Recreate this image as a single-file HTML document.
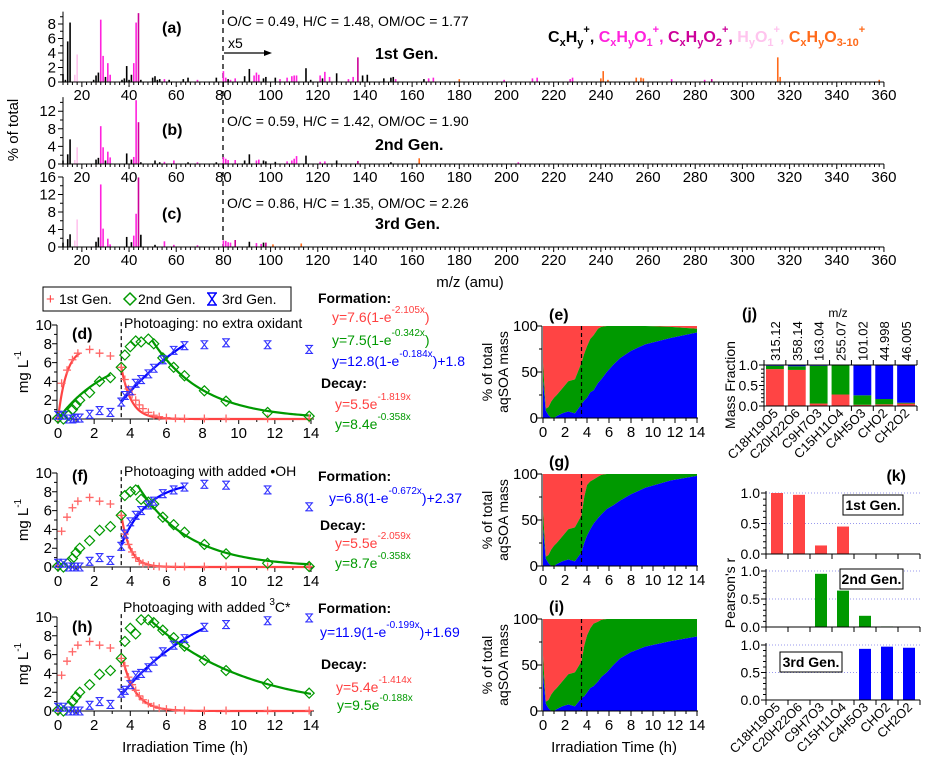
<!DOCTYPE html>
<html><head><meta charset="utf-8"><style>
body{margin:0;background:#fff}
svg{display:block;font-family:"Liberation Sans",Arial,sans-serif}
</style></head><body>
<svg id="fig" width="933" height="768" viewBox="0 0 933 768">
<rect x="0" y="0" width="933" height="768" fill="#fff"/>
<text x="18" y="130" font-size="15" transform="rotate(-90 18 130)" text-anchor="middle">% of total</text>
<text x="470" y="287" font-size="15" text-anchor="middle">m/z (amu)</text>
<line x1="223" y1="10" x2="223" y2="247" stroke="#000" stroke-width="1.3" stroke-dasharray="5,4"/>
<text x="162" y="33" font-size="16" font-weight="bold">(a)</text>
<text x="227" y="26" font-size="14">O/C = 0.49, H/C = 1.48, OM/OC = 1.77</text>
<text x="228" y="48" font-size="14">x5</text>
<line x1="224" y1="53" x2="266" y2="53" stroke="#000" stroke-width="1.2"/>
<polygon points="272,53 264,50 264,56" fill="#000"/>
<text x="375" y="59" font-size="16" font-weight="bold">1st Gen.</text>
<text x="162" y="135" font-size="16" font-weight="bold">(b)</text>
<text x="227" y="126" font-size="14">O/C = 0.59, H/C = 1.42, OM/OC = 1.90</text>
<text x="375" y="150" font-size="16" font-weight="bold">2nd Gen.</text>
<text x="162" y="219" font-size="16" font-weight="bold">(c)</text>
<text x="227" y="208" font-size="14">O/C = 0.86, H/C = 1.35, OM/OC = 2.26</text>
<text x="375" y="229" font-size="16" font-weight="bold">3rd Gen.</text>
<text x="548" y="42" font-size="16" font-weight="bold"><tspan fill="#000">C<tspan font-size="11" dy="4">x</tspan><tspan dy="-4">H</tspan><tspan font-size="11" dy="4">y</tspan><tspan font-size="11" dy="-13">+</tspan><tspan dy="9">, </tspan></tspan><tspan fill="#ff22dd">C<tspan font-size="11" dy="4">x</tspan><tspan dy="-4">H</tspan><tspan font-size="11" dy="4">y</tspan><tspan dy="-4">O</tspan><tspan font-size="11" dy="4">1</tspan><tspan font-size="11" dy="-13">+</tspan><tspan dy="9">, </tspan></tspan><tspan fill="#cc0099">C<tspan font-size="11" dy="4">x</tspan><tspan dy="-4">H</tspan><tspan font-size="11" dy="4">y</tspan><tspan dy="-4">O</tspan><tspan font-size="11" dy="4">2</tspan><tspan font-size="11" dy="-13">+</tspan><tspan dy="9">, </tspan></tspan><tspan fill="#ffc4ee">H<tspan font-size="11" dy="4">y</tspan><tspan dy="-4">O</tspan><tspan font-size="11" dy="4">1</tspan><tspan font-size="11" dy="-13">+</tspan><tspan dy="9">, </tspan></tspan><tspan fill="#ff6a1a">C<tspan font-size="11" dy="4">x</tspan><tspan dy="-4">H</tspan><tspan font-size="11" dy="4">y</tspan><tspan dy="-4">O</tspan><tspan font-size="11" dy="4">3-10</tspan><tspan font-size="11" dy="-13">+</tspan></tspan></text>

<rect x="43" y="287" width="248" height="24" fill="#fff" stroke="#000" stroke-width="1"/>
<text x="46" y="304" font-size="15" fill="#ff4040">+</text>
<text x="59" y="304" font-size="14">1st Gen.</text>
<polygon points="130,293 136,299 130,305 124,299" fill="none" stroke="#009900" stroke-width="1.5"/>
<text x="138" y="304" font-size="14">2nd Gen.</text>
<path d="M207,293 h10 M207,305 h10 M208,293 L216,305 M216,293 L208,305" stroke="#0000ff" stroke-width="1.5" fill="none"/>
<text x="222" y="304" font-size="14">3rd Gen.</text>

<text x="28" y="372" font-size="15" text-anchor="middle" transform="rotate(-90 28 372)">mg L<tspan font-size="10" dy="-7">-1</tspan></text>
<text x="72" y="339" font-size="16" font-weight="bold">(d)</text>
<text x="124" y="328" font-size="14">Photoaging: no extra oxidant</text>
<text x="318" y="303" font-size="14" font-weight="bold">Formation:</text>
<text x="332" y="322" font-size="14" fill="#ff4040">y=7.6(1-e<tspan font-size="10" dy="-9">-2.105x</tspan><tspan dy="9">)</tspan></text>
<text x="332" y="345" font-size="14" fill="#009900">y=7.5(1-e<tspan font-size="10" dy="-9">-0.342x</tspan><tspan dy="9">)</tspan></text>
<text x="332" y="366" font-size="14" fill="#0000ff">y=12.8(1-e<tspan font-size="10" dy="-9">-0.184x</tspan><tspan dy="9">)+1.8</tspan></text>
<text x="321" y="388" font-size="14" font-weight="bold">Decay:</text>
<text x="335" y="409" font-size="14" fill="#ff4040">y=5.5e<tspan font-size="10" dy="-9">-1.819x</tspan></text>
<text x="335" y="429" font-size="14" fill="#009900">y=8.4e<tspan font-size="10" dy="-9">-0.358x</tspan></text>

<text x="28" y="520" font-size="15" text-anchor="middle" transform="rotate(-90 28 520)">mg L<tspan font-size="10" dy="-7">-1</tspan></text>
<text x="72" y="481" font-size="16" font-weight="bold">(f)</text>
<text x="124" y="476" font-size="14">Photoaging with added •OH</text>
<text x="318" y="481" font-size="14" font-weight="bold">Formation:</text>
<text x="329" y="503" font-size="14" fill="#0000ff">y=6.8(1-e<tspan font-size="10" dy="-9">-0.672x</tspan><tspan dy="9">)+2.37</tspan></text>
<text x="320" y="530" font-size="14" font-weight="bold">Decay:</text>
<text x="335" y="548" font-size="14" fill="#ff4040">y=5.5e<tspan font-size="10" dy="-9">-2.059x</tspan></text>
<text x="335" y="568" font-size="14" fill="#009900">y=8.7e<tspan font-size="10" dy="-9">-0.358x</tspan></text>

<text x="28" y="664" font-size="15" text-anchor="middle" transform="rotate(-90 28 664)">mg L<tspan font-size="10" dy="-7">-1</tspan></text>
<text x="72" y="632" font-size="16" font-weight="bold">(h)</text>
<text x="123" y="612" font-size="14">Photoaging with added <tspan font-size="10" dy="-7">3</tspan><tspan dy="7">C*</tspan></text>
<text x="318" y="613" font-size="14" font-weight="bold">Formation:</text>
<text x="320" y="637" font-size="14" fill="#0000ff">y=11.9(1-e<tspan font-size="10" dy="-9">-0.199x</tspan><tspan dy="9">)+1.69</tspan></text>
<text x="321" y="669" font-size="14" font-weight="bold">Decay:</text>
<text x="336" y="692" font-size="14" fill="#ff4040">y=5.4e<tspan font-size="10" dy="-9">-1.414x</tspan></text>
<text x="337" y="710" font-size="14" fill="#009900">y=9.5e<tspan font-size="10" dy="-9">-0.188x</tspan></text>
<text x="185" y="752" font-size="15" text-anchor="middle">Irradiation Time (h)</text>

<text x="549" y="320" font-size="16" font-weight="bold">(e)</text>
<text x="549" y="467" font-size="16" font-weight="bold">(g)</text>
<text x="549" y="612" font-size="16" font-weight="bold">(i)</text>
<text x="614" y="752" font-size="15" text-anchor="middle">Irradiation Time (h)</text>

<text x="742" y="319" font-size="16" font-weight="bold">(j)</text>
<text x="838" y="317" font-size="12" text-anchor="middle">m/z</text>
<text x="735" y="385" font-size="14" text-anchor="middle" transform="rotate(-90 735 385)">Mass Fraction</text>
<text x="906" y="481" font-size="16" font-weight="bold" text-anchor="end">(k)</text>
<text x="735" y="593" font-size="14" text-anchor="middle" transform="rotate(-90 735 593)">Pearson's r</text>
</svg>
<script>
const specMzA=[12,13,14,15,17,18,25,26,27,28,29,30,31,32,37,38,39,40,41,42,43,44,45,50,51,52,53,55,57,63,65,69,77,80,81,82,83,85,89,91,93,94,95,97,98,102,104,107,109,110,111,115,117,121,122,123,125,128,133,135,137,139,141,148,151,152,153,165,167,169,180,199,211,213,227,228,240,241,243,255,257,258,270,284,287,315,316,358];
const specValA=[1.1,0.3,5.6,8.2,1.0,3.8,0.3,0.9,1.3,8.6,3.6,0.7,2.6,1.0,0.3,0.5,2.2,0.3,1.0,2.6,8.2,9.5,0.3,0.6,0.8,0.3,0.4,0.4,0.3,0.4,0.6,0.3,0.6,1.5,0.6,0.4,0.3,0.5,0.8,1.8,0.9,1.3,1.0,0.5,0.7,0.6,0.4,0.6,0.8,0.9,0.9,1.9,0.3,0.9,0.5,1.4,0.7,1.2,0.4,0.7,3.4,0.9,1.0,0.5,0.6,0.7,0.4,0.4,0.5,0.6,0.4,0.3,0.5,0.6,0.4,0.6,0.5,1.5,0.3,0.6,0.6,0.5,0.4,0.3,0.4,3.4,0.7,0.3];
const specClsA=['k','k','k','k','l','l','k','k','k','p','p','k','p','p','k','k','k','k','k','p','p','m','k','k','k','k','k','p','k','k','k','p','k','p','p','k','p','p','k','k','p','p','p','k','k','k','p','p','p','p','p','k','k','p','k','p','p','k','p','p','m','k','k','k','k','k','p','k','p','p','o','p','p','p','p','p','o','o','o','o','o','o','p','p','m','o','o','o'];
const specMzB=[12,14,15,17,18,26,27,28,29,30,31,32,39,41,42,43,44,45,51,53,55,59,65,69,77,80,81,82,85,89,91,94,95,97,98,102,107,109,110,111,115,121,123,128,137,151,163,205];
const specValB=[0.8,2.2,5.6,0.9,3.8,1.0,1.4,8.6,3.8,0.8,2.8,1.5,2.4,1.0,1.6,14.5,9.5,0.4,0.8,0.4,0.5,0.8,0.4,0.4,0.4,1.6,1.2,0.9,0.9,0.8,2.2,0.8,1.0,0.8,0.6,0.5,0.6,0.8,1.2,1.8,1.9,0.5,0.6,0.8,0.7,0.4,1.3,0.4];
const specClsB=['k','k','k','l','l','k','k','p','p','k','p','p','k','k','p','p','m','k','k','k','p','p','k','p','k','p','p','p','p','k','k','p','p','k','k','k','p','p','p','p','k','p','p','k','m','k','o','p'];
const specMzC=[12,14,15,17,18,26,27,28,29,31,32,39,41,42,43,44,45,51,55,59,69,80,81,82,83,85,91,94,96,97,98,101,113];
const specValC=[1.0,1.8,2.9,1.5,6.3,1.2,2.2,14.3,4.2,1.9,0.6,2.3,1.1,2.6,7.6,15.9,2.8,0.5,1.3,0.5,0.4,1.5,1.4,1.1,1.0,1.6,1.2,0.9,0.7,1.0,1.0,0.6,0.8];
const specClsC=['k','k','k','l','l','k','k','p','p','p','p','k','k','p','p','m','k','k','p','p','p','p','p','p','p','m','k','p','p','k','m','o','o'];

const tShared=[0,0.3,0.6,0.8,1.0,1.2,1.75,2.3,2.9,3.5,3.7,4.0,4.3,4.6,5.0,5.3,5.8,6.4,7.0,8.1,9.3,11.6,13.9];
const tRed=[0,0.2,0.5,0.8,1.1,1.75,2.3,2.9,3.5,3.7,3.9,4.1,4.3,4.5,4.7,5.0,5.3,5.6,6.0,6.5,7.0,8.1,9.3,11.6,13.9];
const redD=[0.2,3.8,5.2,6.3,7.0,7.4,7.0,6.7,5.5,4.2,3.2,2.6,2.0,1.5,1.1,0.7,0.4,0.25,0.15,0.08,0.05,0.05,0.05,0.05,0.05];
const greenD=[0.1,0,0.4,1.0,1.5,2.0,2.8,4.0,4.4,5.5,6.8,7.7,8.3,8.2,8.5,8.0,6.5,5.5,4.6,3.0,1.9,0.7,0.3];
const blueD=[0.4,0.4,0,0,0.1,0.1,0.5,0.9,0.7,1.8,2.5,3.0,3.8,4.2,4.8,5.4,6.3,7.3,7.8,7.9,8.1,7.9,7.4];
const redF=[0.2,3.8,5.3,6.3,7.0,7.4,7.0,6.7,5.5,3.5,2.4,1.6,1.0,0.6,0.4,0.2,0.1,0.05,0.05,0.05,0.05,0.05,0.05,0.05,0.05];
const greenF=[0.1,0,0.5,0.9,1.5,2.0,2.8,3.9,4.3,5.5,7.6,8.0,8.2,7.2,6.9,6.7,5.3,4.5,3.7,2.4,1.4,0.4,0.05];
const blueF=[0.4,0.4,0,0,0,0,0.6,1.0,0.7,2.2,3.5,4.8,5.5,6.0,6.6,7.0,7.8,8.2,8.5,8.8,8.7,8.2,6.4];
const redH=[0.2,3.8,5.3,6.3,7.0,7.4,7.0,6.7,5.6,4.8,3.6,2.8,2.2,1.6,1.2,0.8,0.5,0.3,0.2,0.1,0.05,0.05,0.05,0.05,0.05];
const greenH=[0.1,0,0.5,1.0,1.5,2.0,2.8,3.9,4.3,5.6,7.4,8.8,8.2,9.7,9.7,9.4,8.6,7.8,6.9,5.4,4.3,2.9,1.9];
const blueH=[0.4,0.4,0,0,0,0,0.6,1.0,0.7,1.9,2.2,2.8,3.8,4.0,4.6,5.3,6.3,7.0,7.7,8.9,9.2,9.6,9.9];
const fitRedFormD=[7.6,2.105,0,1.2];
const fitGreenFormD=[7.5,0.342,0,2.9];
const fitBlueFormD=[12.8,0.184,1.8,3.5,7.0];
const fitRedDecayD=[5.5,1.819,3.5,14];
const fitGreenDecayD=[8.4,0.358,5.2,14];
const fitBlueFormF=[6.8,0.672,2.37,3.5,7.0];
const fitRedDecayF=[5.5,2.059,3.5,14];
const fitGreenDecayF=[8.7,0.358,4.4,14];
const fitBlueFormH=[11.9,0.199,1.69,3.5,8.1];
const fitRedDecayH=[5.4,1.414,3.6,14];
const fitGreenDecayH=[9.5,0.188,5.2,14];

const tFrac=[0,0.25,0.5,0.75,1,1.25,1.75,2.3,2.9,3.5,3.75,4,4.3,4.6,5,5.3,5.8,6.4,7,8,9.3,11.6,14];
const blueE=[40,8,3,0,0,2,5,7,5,15,19,22,28,30,38,42,50,58,65,73,80,87,93];
const greenE=[20,2,9,18,22,23,27,33,37,45,51,56,58,60,59,57,50,42,35,27,20,12,4];
const blueG=[40,8,3,0,0,2,5,7,5,15,25,33,40,46,52,56,62,66,71,78,85,93,98];
const greenG=[20,2,9,18,22,23,27,33,37,40,50,55,52,48,45,43,38,34,29,22,15,7,2];
const blueI=[40,8,3,0,0,2,5,7,5,14,16,20,25,27,32,37,42,50,57,64,70,76,81];
const greenI=[20,2,9,18,22,23,27,33,37,40,55,62,65,68,65,62,58,50,43,36,30,24,19];

const species=['C18H19O5','C20H22O6','C9H7O3','C15H11O4','C4H5O3','CHO2','CH2O2'];
const speciesMz=['315.12','358.14','163.04','255.07','101.02','44.998','46.005'];
const fracRed=[0.90,0.88,0.06,0.28,0.03,0.04,0.06];
const fracGreen=[0.08,0.09,0.92,0.72,0.23,0.13,0.02];
const fracBlue=[0.02,0.03,0.02,0.00,0.74,0.83,0.92];
const pearson1=[1.0,0.97,0.14,0.45,0,0,0];
const pearson2=[0,0,0.95,0.65,0.2,0.01,0];
const pearson3=[0,0,0,0,0.93,0.97,0.95];

const NS='http://www.w3.org/2000/svg';
const svg=document.getElementById('fig');
function mk(tag,attrs,parent){const e=document.createElementNS(NS,tag);for(const k in attrs)e.setAttribute(k,attrs[k]);(parent||svg).appendChild(e);return e;}
function txt(x,y,s,size,anchor,parent){const t=mk('text',{x:x,y:y,'font-size':size,'text-anchor':anchor||'middle'},parent);t.textContent=s;return t;}
const COL={k:'#000',p:'#ff22dd',m:'#cc0099',l:'#ffc4ee',o:'#ff6a1a'};
const RED='#ff4444',GREEN='#009900',BLUE='#0000ff';

function specPanel(name,y0,scale,ymax,ystep,ysub,mzs,vals,cls){
  const g=mk('g',{});
  
  
  const sx=m=>63+(m-12)*2.359;
  for(let i=0;i<mzs.length;i++){
    const b=mk('line',{x1:sx(mzs[i]),x2:sx(mzs[i]),y1:y0,y2:y0-vals[i]*scale,stroke:COL[cls[i]],'stroke-width':1.6},g);
    
    
  }
  mk('line',{x1:63,x2:884,y1:y0,y2:y0,stroke:'#000','stroke-width':1},g);
  let d='';
  for(let m=12;m<=360;m+=2){d+=`M${sx(m)},${y0}v${m%20===0?5:3}`;}
  mk('path',{d:d,stroke:'#000','stroke-width':1,fill:'none'},g);
  for(let m=20;m<=360;m+=20){const t=txt(sx(m),y0+18,String(m),15,'middle',g);}
  mk('line',{x1:63,x2:63,y1:y0,y2:y0-ymax*scale,stroke:'#000','stroke-width':1},g);
  let dy='';
  for(let v=0;v<=ymax+0.01;v+=ysub){dy+=`M63,${y0-v*scale}h${(Math.abs(v/ystep-Math.round(v/ystep))<1e-6)?-5:-3}`;}
  mk('path',{d:dy,stroke:'#000','stroke-width':1,fill:'none'},g);
  for(let v=0;v<=ymax;v+=ystep){const t=txt(56,y0-v*scale+5,String(v),15,'end',g);}
}
specPanel('spectrum-panel-a',82,7.25,9.7,2,1,specMzA,specValA,specClsA);
specPanel('spectrum-panel-b',164,4.4,15.2,4,2,specMzB,specValB,specClsB);
specPanel('spectrum-panel-c',247,4.375,16,4,2,specMzC,specValC,specClsC);

function tsPanel(name,y0,red,green,blue,fits){
  const g=mk('g',{});
  
  
  const X=t=>58+t*18.07, Y=v=>y0-v*9.4;
  mk('line',{x1:57,x2:314,y1:y0,y2:y0,stroke:'#000'},g);
  mk('line',{x1:57,x2:57,y1:y0,y2:Y(10),stroke:'#000'},g);
  let d='';
  for(let t=0;t<=14;t++)d+=`M${X(t)},${y0}v${t%2===0?5:3}`;
  for(let v=0;v<=10;v++)d+=`M57,${Y(v)}h${v%2===0?-5:-3}`;
  mk('path',{d:d,stroke:'#000',fill:'none'},g);
  for(let t=0;t<=14;t+=2){const l=txt(X(t),y0+19,String(t),15,'middle',g);}
  for(let v=0;v<=10;v+=2){const l=txt(52,Y(v)+5,String(v),15,'end',g);}
  const dl=mk('line',{x1:X(3.5),x2:X(3.5),y1:Y(10.3),y2:y0,stroke:'#000','stroke-dasharray':'4,3','stroke-width':1.2},g);
  
  
  function curve(f,col,nm){let p='';const n=80;for(let i=0;i<=n;i++){const t=f.t0+(f.t1-f.t0)*i/n;p+=(i?'L':'M')+X(t)+','+Y(f.fn(t));}
    const c=mk('path',{d:p,stroke:col,'stroke-width':2.2,fill:'none'},g);
    
    }
  fits.forEach(f=>curve(f,f.col,f.nm));
  for(let i=0;i<tRed.length;i++){const x=X(tRed[i]),y=Y(red[i]);
    const m=mk('path',{d:`M${x-4},${y}h8M${x},${y-4}v8`,stroke:'#ff6666','stroke-width':1.3,fill:'none'},g);
    
    }
  for(let i=0;i<tShared.length;i++){const x=X(tShared[i]),y=Y(green[i]);
    const m=mk('polygon',{points:`${x},${y-5} ${x+5},${y} ${x},${y+5} ${x-5},${y}`,stroke:GREEN,'stroke-width':1.2,fill:'none'},g);
    
    }
  for(let i=0;i<tShared.length;i++){const x=X(tShared[i]),y=Y(blue[i]);
    const m=mk('path',{d:`M${x-4},${y-4}h8M${x-4},${y+4}h8M${x-3},${y-4}L${x+3},${y+4}M${x+3},${y-4}L${x-3},${y+4}`,stroke:'#3333ff','stroke-width':1.1,fill:'none'},g);
    
    }
}
const formA=p=>({t0:p[2],t1:p[3],fn:t=>p[0]*(1-Math.exp(-p[1]*t))});
const formB=p=>({t0:p[3],t1:p[4],fn:t=>p[0]*(1-Math.exp(-p[1]*(t-p[3])))+p[2]});
const decay=p=>({t0:p[2],t1:p[3],fn:t=>p[0]*Math.exp(-p[1]*(t-p[2]))});
function F(o,col,nm){o.col=col;o.nm=nm;return o;}
tsPanel('panel-d',419,redD,greenD,blueD,[F(formA(fitRedFormD),RED,'fit-1st-formation'),F(formA(fitGreenFormD),GREEN,'fit-2nd-formation'),F(formB(fitBlueFormD),BLUE,'fit-3rd-formation'),F(decay(fitRedDecayD),RED,'fit-1st-decay'),F(decay(fitGreenDecayD),GREEN,'fit-2nd-decay')]);
tsPanel('panel-f',567,redF,greenF,blueF,[F(formB(fitBlueFormF),BLUE,'fit-3rd-formation'),F(decay(fitRedDecayF),RED,'fit-1st-decay'),F(decay(fitGreenDecayF),GREEN,'fit-2nd-decay')]);
tsPanel('panel-h',711,redH,greenH,blueH,[F(formB(fitBlueFormH),BLUE,'fit-3rd-formation'),F(decay(fitRedDecayH),RED,'fit-1st-decay'),F(decay(fitGreenDecayH),GREEN,'fit-2nd-decay')]);

function fracPanel(name,y0,y100,blue,green){
  const g=mk('g',{});
  
  
  const X=t=>543+t*11.0, Y=v=>y0-(y0-y100)*v/100;
  const n=tFrac.length;
  let redPts=[],greenPts=[],bluePts=[];
  for(let i=0;i<n;i++){redPts.push(X(tFrac[i])+','+Y(100));}
  for(let i=n-1;i>=0;i--){redPts.push(X(tFrac[i])+','+Y(blue[i]+green[i]));}
  for(let i=0;i<n;i++){greenPts.push(X(tFrac[i])+','+Y(blue[i]+green[i]));}
  for(let i=n-1;i>=0;i--){greenPts.push(X(tFrac[i])+','+Y(blue[i]));}
  for(let i=0;i<n;i++){bluePts.push(X(tFrac[i])+','+Y(blue[i]));}
  bluePts.push(X(14)+','+y0,X(0)+','+y0);
  const r=mk('polygon',{points:redPts.join(' '),fill:RED},g);
  
  
  const gg=mk('polygon',{points:greenPts.join(' '),fill:GREEN},g);
  
  
  const b=mk('polygon',{points:bluePts.join(' '),fill:BLUE},g);
  
  
  mk('line',{x1:X(3.5),x2:X(3.5),y1:y100,y2:y0,stroke:'#000','stroke-dasharray':'4,3','stroke-width':1.2},g);
  mk('line',{x1:542,x2:698,y1:y0,y2:y0,stroke:'#000'},g);
  mk('line',{x1:542,x2:542,y1:y0,y2:y100,stroke:'#000'},g);
  let d='';
  for(let t=0;t<=14;t++)d+=`M${X(t)},${y0}v${t%2===0?5:3}`;
  for(let v=0;v<=100;v+=25)d+=`M542,${Y(v)}h${v%50===0?-5:-3}`;
  mk('path',{d:d,stroke:'#000',fill:'none'},g);
  for(let t=0;t<=14;t+=2){const l=txt(X(t),y0+19,String(t),15,'middle',g);}
  for(let v=0;v<=100;v+=50){const l=txt(538,Y(v)+5,String(v),15,'end',g);}
  const c=(y0+y100)/2;
  const a=mk('text',{x:492,y:c,'font-size':14,'text-anchor':'middle',transform:`rotate(-90 492 ${c})`},g);a.textContent='% of total';
  const a2=mk('text',{x:508,y:c,'font-size':14,'text-anchor':'middle',transform:`rotate(-90 508 ${c})`},g);a2.textContent='aqSOA mass';
}
fracPanel('panel-e',418,326,blueE,greenE);
fracPanel('panel-g',566,474,blueG,greenG);
fracPanel('panel-i',711,619,blueI,greenI);

(function(){
  const g=mk('g',{});
  
  
  const x0=764,x1=917,w=(x1-x0)/7,y0=406,y1=365;
  const Y=v=>y0-(y0-y1)*v;
  for(let i=0;i<7;i++){
    const bx=x0+i*w+2,bw=w-4;
    const r=mk('rect',{x:bx,y:Y(fracRed[i]),width:bw,height:y0-Y(fracRed[i]),fill:RED},g);
    
    
    const gr=mk('rect',{x:bx,y:Y(fracRed[i]+fracGreen[i]),width:bw,height:Y(fracRed[i])-Y(fracRed[i]+fracGreen[i]),fill:GREEN},g);
    
    
    const bl=mk('rect',{x:bx,y:Y(1),width:bw,height:Y(fracRed[i]+fracGreen[i])-Y(1),fill:BLUE},g);
    
    
    const cx=x0+(i+0.5)*w;
    const mt=mk('text',{x:cx+5,y:361,'font-size':13,transform:`rotate(-90 ${cx+5} 361)`},g);mt.textContent=speciesMz[i];
    
    
    const ct=mk('text',{x:cx+4,y:414,'font-size':13,'text-anchor':'end',transform:`rotate(-45 ${cx+4} 414)`},g);ct.textContent=species[i];
    
    
  }
  let d=`M${x0},${y0}H${x1}M${x0},${y1}H${x1}M${x0},${y0}V${y1}`;
  for(let i=0;i<=7;i++)d+=`M${x0+i*w},${y0}v5M${x0+i*w},${y1}v-5`;
  for(let v=0;v<=1;v+=0.5)d+=`M${x0},${Y(v)}h-5`;
  for(let v=0.1;v<1;v+=0.1)d+=`M${x0},${Y(v)}h-3`;
  mk('path',{d:d,stroke:'#000',fill:'none'},g);
  ['0.0','0.5','1.0'].forEach((s,i)=>{const l=txt(758,Y(i*0.5)+5,s,14,'end',g);});
})();

function pearsonPanel(name,y0,y1,vals,col,box){
  const g=mk('g',{});
  
  
  const x0=766,x1=920,w=(x1-x0)/7;
  const Y=v=>y0-(y0-y1)*v;
  mk('path',{d:`M${x0},${Y(0.5)}H${x1}M${x0},${Y(1)}H${x1}`,stroke:'#9999ee','stroke-dasharray':'1,2',fill:'none'},g);
  for(let i=0;i<7;i++){
    if(vals[i]<=0)continue;
    const r=mk('rect',{x:x0+i*w+5,y:Y(vals[i]),width:w-10,height:y0-Y(vals[i]),fill:col},g);
    
    
  }
  let d=`M${x0},${y0}H${x1}M${x0},${y0}V${y1-2}`;
  for(let i=0;i<=7;i++)d+=`M${x0+i*w},${y0}v5`;
  for(let v=0;v<=1.001;v+=0.5)d+=`M${x0},${Y(v)}h-5`;
  for(let v=0.1;v<1;v+=0.1)d+=`M${x0},${Y(v)}h-3`;
  mk('path',{d:d,stroke:'#000',fill:'none'},g);
  ['0.0','0.5','1.0'].forEach((s,i)=>{const l=txt(760,Y(i*0.5)+5,s,14,'end',g);});
  const b=mk('rect',{x:box[0],y:box[1],width:box[2],height:20,fill:'#fff',stroke:'#000'},g);
  
  
  const t=mk('text',{x:box[0]+box[2]/2,y:box[1]+15,'font-size':14,'font-weight':'bold','text-anchor':'middle'},g);t.textContent=box[3];
}
pearsonPanel('panel-k-1st',554,493,pearson1,RED,[843,495,60,'1st Gen.']);
pearsonPanel('panel-k-2nd',627,571,pearson2,GREEN,[840,569,63,'2nd Gen.']);
pearsonPanel('panel-k-3rd',700,645,pearson3,BLUE,[780,652,62,'3rd Gen.']);
(function(){
  const w=(920-766)/7;
  for(let i=0;i<7;i++){const cx=766+(i+0.5)*w;
    const ct=mk('text',{x:cx+4,y:708,'font-size':13,'text-anchor':'end',transform:`rotate(-45 ${cx+4} 708)`});ct.textContent=species[i];
    
    }
})();
</script>
</body></html>
